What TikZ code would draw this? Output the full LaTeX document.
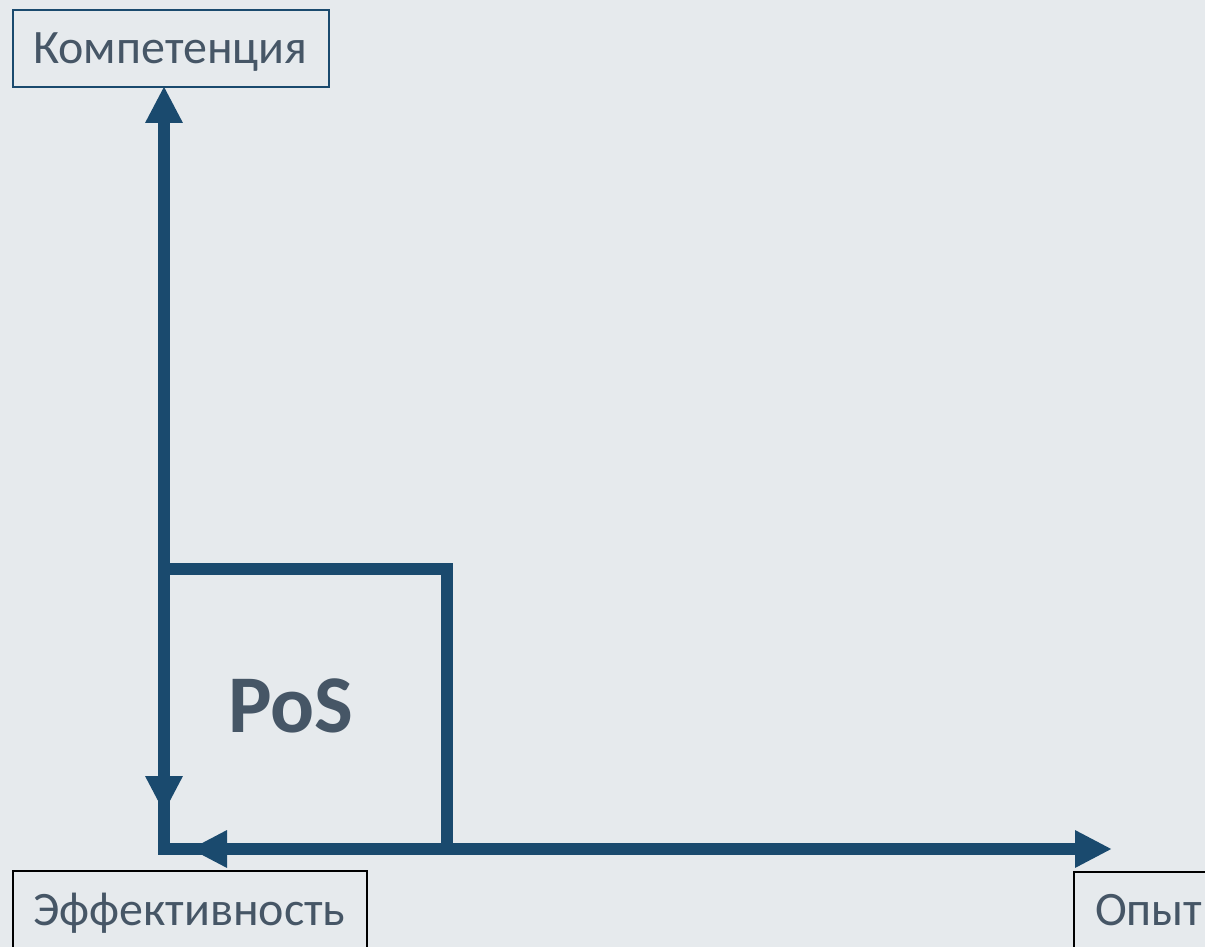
\documentclass[tikz,border=0pt]{standalone}
\usepackage{fontspec}
\setmainfont{Carlito}
\usetikzlibrary{arrows.meta}
\definecolor{bgc}{RGB}{230,234,237}
\definecolor{axisc}{RGB}{26,74,110}
\definecolor{txtc}{RGB}{70,86,102}
\tikzset{
  axisline/.style={draw=axisc, line width=11.5pt},
  axisarrow/.style={axisline, {Triangle[width=35pt,length=37pt]}-{Triangle[width=35pt,length=37pt]}},
  lbl/.style={font=\fontsize{48}{51}\selectfont, text=txtc, inner sep=0pt, anchor=base west},
  lblbox/.style={line width=1.2pt}
}
\begin{document}
\begin{tikzpicture}[x=1pt,y=-1pt]
\clip (0,0) rectangle (1205,947);
\fill[bgc] (0,0) rectangle (1205,947);
% label boxes
\draw[lblbox, draw=axisc] (13,10) rectangle (329,87);
\draw[lblbox, draw=black] (13,871) rectangle (367,960);
\draw[lblbox, draw=black] (1074,872) rectangle (1220,960);
\node[lbl] (komp) at (33,64) {Компетенция};
\node[lbl] (eff) at (33,925) {Эффективность};
\node[lbl] (opyt) at (1095,925) {Опыт};
% axes
\coordinate (vtop) at (164,86);
\coordinate (vbot) at (164,813);
\coordinate (hleft) at (190,849);
\coordinate (hright) at (1112,849);
\coordinate (rtl) at (164,569);
\coordinate (rbr) at (447,849);
\draw[axisline, line join=miter] (rtl) rectangle (rbr);
\draw[axisarrow] (vbot) -- (vtop);
\draw[axisarrow] (hleft) -- (hright);
\node[font=\bfseries\fontsize{82}{86}\selectfont, text=txtc, inner sep=0pt, anchor=base west] (pos) at (228,732) {PoS};
\end{tikzpicture}
\end{document}
